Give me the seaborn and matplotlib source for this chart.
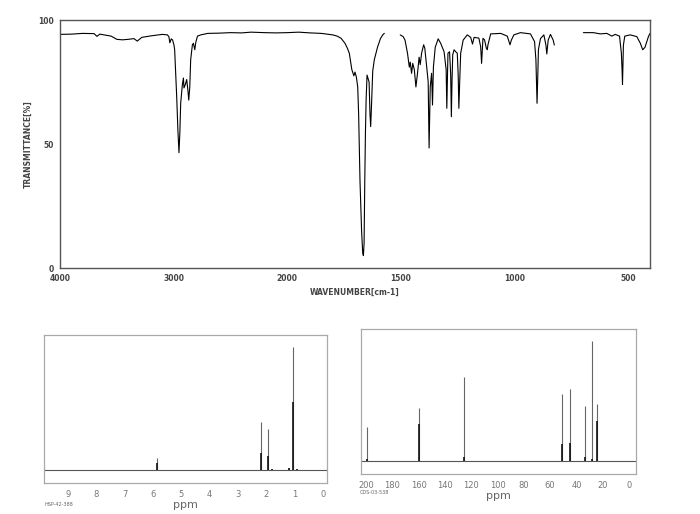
import numpy as np
import pandas as pd
import matplotlib
matplotlib.use("Agg")
import matplotlib.pyplot as plt
import seaborn as sns

# --- IR spectrum (wavenumber cm-1, transmittance %) ---
ir_wn_a = [4000, 3900, 3800, 3700, 3675, 3650, 3550, 3500, 3450, 3400, 3350, 3320, 3280,
           3200, 3100, 3055, 3042, 3033, 3021, 3009, 2997, 2991, 2973, 2962, 2953, 2945,
           2938, 2923, 2914, 2909, 2897, 2885, 2873, 2867, 2858, 2850, 2835, 2826, 2814,
           2805, 2790, 2761, 2700, 2600, 2500, 2400, 2320, 2200, 2100, 2000, 1950, 1900,
           1850, 1800, 1780, 1763, 1746, 1735, 1727, 1716, 1707, 1702, 1696, 1690, 1686,
           1680, 1673, 1668, 1665, 1662, 1659, 1656, 1653, 1649, 1640, 1636, 1633, 1630,
           1624, 1617, 1603, 1590, 1580, 1573]
ir_t_a = [94.2, 94.3, 94.6, 94.5, 93.4, 94.3, 93.5, 92.2, 92.0, 92.2, 92.5, 91.5, 93.0,
          93.6, 94.2, 94.0, 93.3, 90.8, 92.4, 91.9, 89.9, 88.0, 69.0, 55.0, 46.5, 55.0,
          66.5, 74.0, 76.6, 72.6, 74.0, 76.0, 71.0, 67.7, 73.0, 84.0, 90.0, 90.6, 88.0,
          91.0, 93.5, 94.0, 94.6, 94.7, 94.9, 94.8, 95.1, 94.9, 94.8, 94.9, 95.1, 94.8,
          94.6, 94.0, 93.5, 92.6, 90.6, 88.5, 86.6, 80.0, 77.5, 79.0, 77.0, 73.0, 62.0,
          35.0, 15.0, 6.0, 5.0, 10.0, 35.0, 55.0, 68.0, 77.8, 75.0, 62.0, 57.0, 64.0,
          79.4, 84.0, 89.0, 92.5, 94.0, 94.6]

ir_wn_b = [1503, 1490, 1482, 1471, 1463, 1459, 1453, 1448, 1441, 1434, 1427, 1420, 1415,
           1409, 1400, 1395, 1386, 1380, 1376, 1371, 1365, 1361, 1357, 1349, 1336, 1325,
           1310, 1301, 1298, 1295, 1293, 1286, 1281, 1278, 1275, 1272, 1266, 1259, 1252,
           1248, 1245, 1241, 1237, 1226, 1208, 1193, 1185, 1178, 1157, 1149, 1145, 1139,
           1132, 1124, 1120, 1117, 1105, 1061, 1032, 1020, 1014, 1003, 974, 930, 912,
           906, 901, 897, 895, 886, 871, 862, 858, 852, 842, 830, 825]
ir_t_b = [94.0, 93.3, 91.9, 86.6, 81.0, 83.0, 78.5, 82.5, 80.0, 73.0, 78.5, 85.0, 82.0,
          86.6, 90.0, 88.7, 80.6, 75.0, 48.4, 73.0, 78.5, 65.7, 81.0, 89.0, 92.4, 90.6,
          87.2, 80.0, 64.4, 78.0, 86.6, 87.2, 78.0, 61.0, 76.0, 86.0, 88.0, 87.2, 86.6,
          78.0, 64.4, 76.0, 86.6, 91.9, 94.0, 93.0, 90.3, 93.0, 92.7, 89.2, 82.5, 92.6,
          92.0, 88.6, 88.0, 90.0, 94.4, 94.6, 93.5, 90.0, 91.9, 94.0, 94.9, 94.4, 91.3,
          84.0, 66.4, 80.0, 88.0, 92.5, 94.0, 89.9, 86.3, 91.9, 94.2, 91.9, 89.9]

ir_wn_c = [697, 653, 623, 594, 572, 557, 538, 530, 527, 525, 523, 521, 515, 491, 462,
           447, 436, 426, 411, 404]
ir_t_c = [94.9, 94.9, 94.4, 94.6, 93.5, 94.2, 93.5, 86.6, 80.0, 74.0, 82.0, 89.9, 93.5,
          94.0, 93.3, 90.7, 88.0, 89.0, 93.3, 94.6]

ir_ticks = [4000, 3500, 3000, 2500, 2000, 1500, 1000, 500]
ir_tick_labels = ["4000", "", "3000", "", "2000", "1500", "1000", "500"]

# --- 1H NMR sticks (ppm, total height, height of the dark lower part) ---
h1_ppm = [5.87, 2.19, 1.94, 1.80, 1.20, 1.05, 0.90]
h1_height = [10, 39, 33, 0.8, 1.2, 100, 1.0]
h1_core = [6, 14, 11, 0.8, 1.2, 55, 1.0]
h1_ticks = [9, 8, 7, 6, 5, 4, 3, 2, 1, 0]

# --- 13C NMR sticks ---
c13_ppm = [199.5, 159.8, 125.2, 50.6, 45.0, 33.3, 28.2, 24.3]
c13_height = [28, 44, 70, 56, 60, 46, 100, 47.5]
c13_core = [2, 31, 3.5, 14, 15, 3, 2, 33]
c13_ticks = [200, 180, 160, 140, 120, 100, 80, 60, 40, 20, 0]

sns.set_style("white")
plt.rcParams["font.family"] = ["DejaVu Sans"]

TXT = "#444444"
fig = plt.figure(figsize=(7.0, 5.14), dpi=100)

# ---------------- IR ----------------
ir = pd.concat([
    pd.DataFrame({"wavenumber": ir_wn_a, "transmittance": ir_t_a, "segment": 0}),
    pd.DataFrame({"wavenumber": ir_wn_b, "transmittance": ir_t_b, "segment": 1}),
    pd.DataFrame({"wavenumber": ir_wn_c, "transmittance": ir_t_c, "segment": 2}),
], ignore_index=True)

ax = fig.add_axes([60 / 700, 1 - 268 / 514, 590 / 700, 248 / 514])
sns.lineplot(data=ir, x="wavenumber", y="transmittance", units="segment",
             estimator=None, color="black", linewidth=0.8, ax=ax)


def fwd(w):
    w = np.asarray(w, dtype=float)
    return np.where(w <= 2000, w, 2000 + (w - 2000) / 2)


def inv(p):
    p = np.asarray(p, dtype=float)
    return np.where(p <= 2000, p, 2000 + 2 * (p - 2000))


# 4000-2000 is drawn at half the scale of 2000-400
ax.set_xscale("function", functions=(fwd, inv))
ax.set_xlim(4000, 404)
ax.set_ylim(0, 100)
ax.set_xticks(ir_ticks)
ax.set_xticklabels(ir_tick_labels)
ax.set_xticks([w for w in range(500, 4000, 100) if w not in ir_ticks], minor=True)
ax.set_yticks([0, 50, 100])
ax.set_yticks(range(10, 100, 10), minor=True)
ax.tick_params(axis="both", which="major", direction="inout", length=5, width=0.8,
               labelsize=5.5, colors="#555555", labelcolor=TXT, pad=2)
ax.tick_params(axis="both", which="minor", direction="inout", length=3, width=0.7,
               colors="#555555")
for lbl in ax.get_xticklabels() + ax.get_yticklabels():
    lbl.set_fontweight("bold")
ax.set_xlabel("WAVENUMBER[cm-1]", fontsize=5.5, color=TXT, fontweight="bold", labelpad=3)
ax.set_ylabel("TRANSMITTANCE[%]", fontsize=5.5, color=TXT, fontweight="bold", labelpad=4)
for sp in ax.spines.values():
    sp.set_color("#555555")
    sp.set_linewidth(1.0)

# ---------------- 1H NMR ----------------
ah = fig.add_axes([44 / 700, 1 - 483 / 514, 283 / 700, 148 / 514])
ah.axhline(0, color="#555555", linewidth=0.8)
ah.vlines(h1_ppm, 0, h1_height, color="#666666", linewidth=0.8)
ah.vlines(h1_ppm, 0, h1_core, color="#111111", linewidth=1.2)
ah.set_xlim(9.85, -0.15)
ah.set_ylim(-10.6, 109.8)
ah.set_xticks(h1_ticks)
ah.set_xticks(np.arange(0.5, 9.6, 1.0), minor=True)
ah.set_yticks([])
ah.tick_params(axis="x", which="major", direction="out", length=3, width=0.7,
               labelsize=6, colors="#999999", labelcolor="#777777", pad=2)
ah.tick_params(axis="x", which="minor", direction="out", length=1.5, width=0.7,
               colors="#999999")
ah.set_xlabel("ppm", fontsize=8, color="#666666", labelpad=1)
for sp in ah.spines.values():
    sp.set_color("#aaaaaa")
    sp.set_linewidth(0.9)
fig.text(45 / 700, 1 - 504 / 514, "HSP-42-388", fontsize=3.5, color="#666666",
         va="center", ha="left")

# ---------------- 13C NMR ----------------
ac = fig.add_axes([361 / 700, 1 - 474 / 514, 275 / 700, 145 / 514])
ac.axhline(0, color="#555555", linewidth=0.8)
ac.vlines(c13_ppm, 0, c13_height, color="#666666", linewidth=0.8)
ac.vlines(c13_ppm, 0, c13_core, color="#111111", linewidth=1.2)
ac.set_xlim(203.8, -5.3)
ac.set_ylim(-10.8, 110)
ac.set_xticks(c13_ticks)
ac.set_xticks(range(10, 200, 20), minor=True)
ac.set_yticks([])
ac.tick_params(axis="x", which="major", direction="out", length=3, width=0.7,
               labelsize=6, colors="#999999", labelcolor="#777777", pad=2)
ac.tick_params(axis="x", which="minor", direction="out", length=1.5, width=0.7,
               colors="#999999")
ac.set_xlabel("ppm", fontsize=8, color="#666666", labelpad=1)
for sp in ac.spines.values():
    sp.set_color("#aaaaaa")
    sp.set_linewidth(0.9)
fig.text(360 / 700, 1 - 493 / 514, "CDS-03-538", fontsize=3.5, color="#666666",
         va="center", ha="left")

fig.savefig("out.png", dpi=100)
